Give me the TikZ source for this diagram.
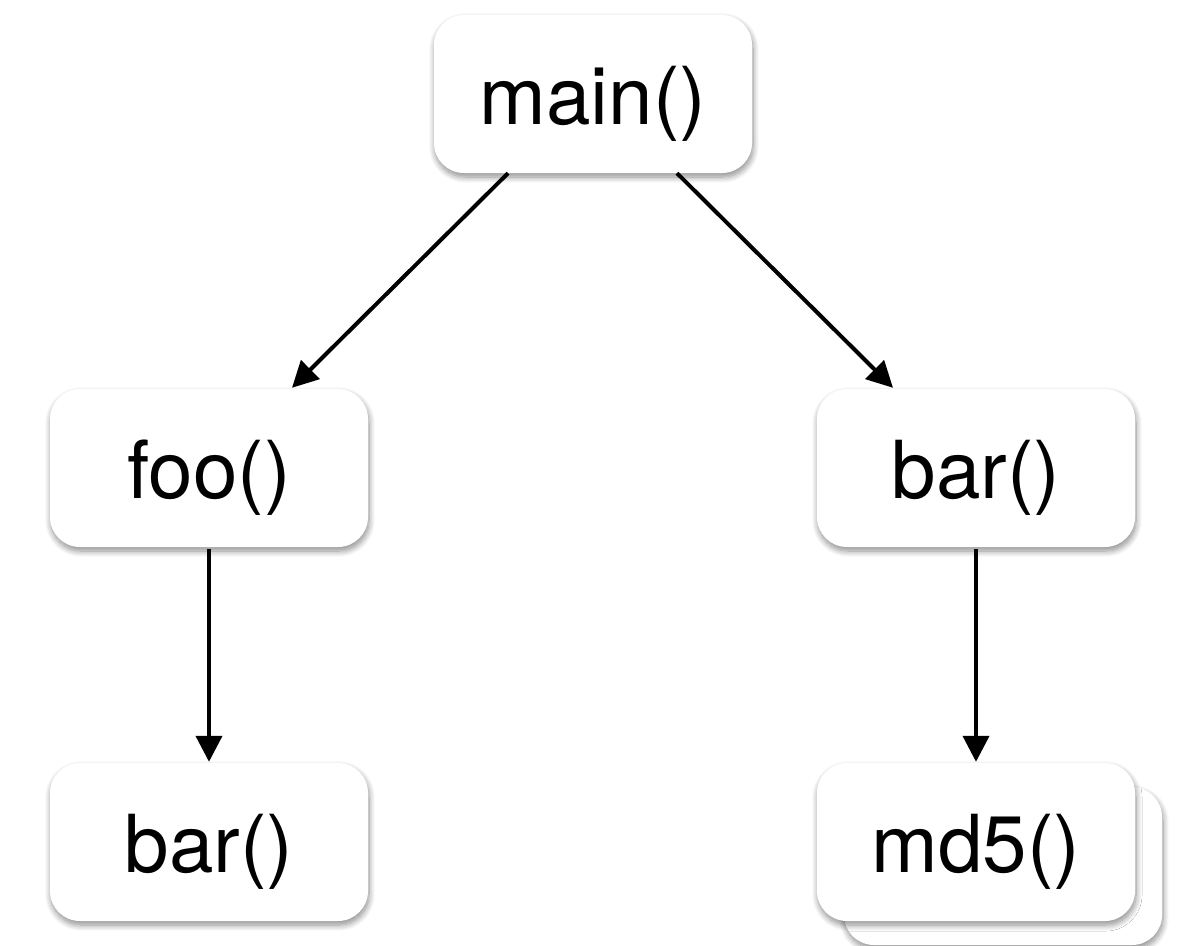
\documentclass[tikz,border=0pt]{standalone}
\usepackage{fontspec}
\setmainfont{TeX Gyre Heros}
\usetikzlibrary{arrows.meta,shadows.blur}

\tikzset{
  callbox/.style={
    rectangle, rounded corners=30pt, fill=white,
    minimum width=318pt, minimum height=158pt, inner sep=0pt,
    text height=60pt, text depth=0pt,
    font=\fontsize{80pt}{96pt}\selectfont,
    blur shadow={shadow xshift=1pt, shadow yshift=-4pt,
                 shadow blur radius=6pt, shadow blur steps=10,
                 shadow opacity=45}
  },
  callarrow/.style={
    draw=black, line width=4pt,
    -{Triangle[width=26pt,length=26pt]}
  }
}

\begin{document}
\begin{tikzpicture}[x=1pt,y=-1pt]
  \useasboundingbox (0,0) rectangle (1182,945);

  % call tree
  \node[callbox] (main) at (593,94)  {main()};
  \node[callbox] (foo)  at (209,468) {foo()};
  \node[callbox] (barR) at (976,468) {bar()};
  \node[callbox] (barL) at (209,842) {bar()};

  % stacked md5() calls
  \node[callbox] (md5back) at (1003,866) {};
  \node[callbox] (md5) at (976,842) {md5()};

  % call edges
  \draw[callarrow] ([xshift=-85pt]main.south) -- ([xshift=83pt,yshift=1pt]foo.north);
  \draw[callarrow] ([xshift=84pt]main.south)  -- ([xshift=-83pt,yshift=1pt]barR.north);
  \draw[callarrow] ([yshift=-2pt]foo.south)  -- ([yshift=1pt]barL.north);
  \draw[callarrow] ([yshift=-2pt]barR.south) -- ([yshift=1pt]md5.north);
\end{tikzpicture}
\end{document}
